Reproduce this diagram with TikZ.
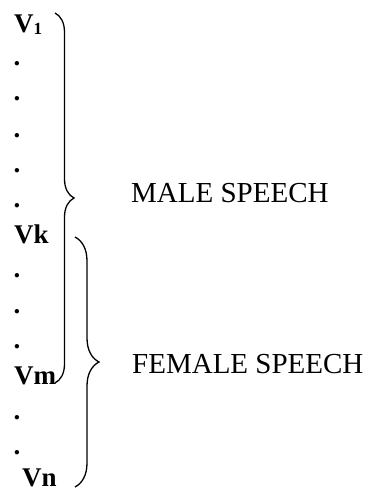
\documentclass[tikz,border=0pt]{standalone}
\usepackage{fontspec}
\setmainfont{Liberation Serif}
\usetikzlibrary{decorations.pathreplacing}

\begin{document}
\begin{tikzpicture}[
			x=1pt, y=-1pt,
			var/.style={anchor=base west, inner sep=0pt, font=\bfseries\fontsize{27}{30}\selectfont},
			group/.style={anchor=base west, inner sep=0pt, font=\fontsize{29}{32}\selectfont},
			curly/.style={line width=1.3pt, decorate, decoration={brace, amplitude=#1}}
			]
			\useasboundingbox (0,0) rectangle (368,488);
			
			% Variables, first block
			\node[var] (v1) at (14,32) {V\raisebox{-2pt}{\fontsize{17}{17}\selectfont 1}};
			\node[var] (d1) at (13.5,65) {.};
			\node[var] (d2) at (13.5,100) {.};
			\node[var] (d3) at (13.5,137) {.};
			\node[var] (d4) at (13.5,172) {.};
			\node[var] (d5) at (13.5,207) {.};
			\node[var] (vk) at (14,243) {Vk};
			
			% Variables, second block
			\node[var] (d6) at (13.5,277) {.};
			\node[var] (d7) at (13.5,313) {.};
			\node[var] (d8) at (13.5,348) {.};
			\node[var] (vm) at (14,384) {Vm};
			\node[var] (d9) at (13.5,419) {.};
			\node[var] (d10) at (13.5,454) {.};
			\node[var] (vn) at (22,486.5) {Vn};
			
			% Group labels
			\node[group] (male) at (131,202) {MALE SPEECH};
			\node[group] (female) at (132,373) {FEMALE SPEECH};
			
			% Brace ends
			\coordinate (maletop) at (55,13);
			\coordinate (malebot) at (55,383);
			\coordinate (femtop) at (75,237);
			\coordinate (fembot) at (75,487);
			
			% Braces
			\draw[curly=19pt] (maletop) -- (malebot);
			\draw[curly=24pt] (femtop) -- (fembot);
			
		\end{tikzpicture}
\end{document}
